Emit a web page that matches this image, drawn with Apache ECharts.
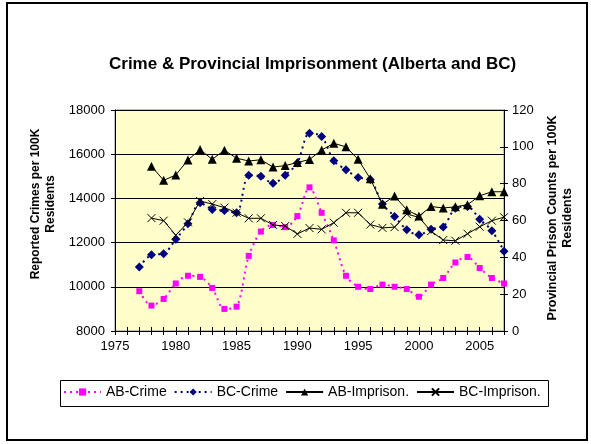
<!DOCTYPE html>
<html>
<head>
<meta charset="utf-8">
<script src="https://cdn.jsdelivr.net/npm/echarts/dist/echarts.min.js"></script>
<style>
html,body{margin:0;padding:0;background:#fff;}
#chart{width:591px;height:444px;}
</style>
</head>
<body>
<div id="chart"></div>
<script>
/* Crime & provincial imprisonment, AB vs BC
   crime on left axis, prison counts on right axis */
var crimeYears = [1977,1978,1979,1980,1981,1982,1983,1984,1985,1986,1987,1988,1989,1990,1991,1992,
  1993,1994,1995,1996,1997,1998,1999,2000,2001,2002,2003,2004,2005,2006,2007];
var abCrime = [9800,9150,9450,10150,10500,10450,9950,9000,9100,11400,12500,12800,12700,13200,14500,13350,
  12100,10500,10000,9900,10100,10000,9900,9550,10100,10400,11100,11350,10850,10400,10150];
var bcCrime = [10900,11450,11500,12150,12850,13800,13500,13450,13350,15050,15000,14680,15050,15600,16950,16800,
  15700,15300,14950,14850,13750,13180,12580,12350,12600,12710,13550,13630,13060,12540,11610];
var impYears = [1978,1979,1980,1981,1982,1983,1984,1985,1986,1987,1988,1989,1990,1991,1992,
  1993,1994,1995,1996,1997,1998,1999,2000,2001,2002,2003,2004,2005,2006,2007];
var abImp = [89.5,81.8,84.7,92.9,98.5,93.2,98.2,93.8,92.3,93,89,89.8,91.5,93.1,98.3,
  101.9,100,93.2,82.7,68.8,73.3,65.8,62.4,67.6,66.8,67.4,68.6,73.4,75.6,75.6];
var bcImp = [61.3,59.9,52,59,70.6,68.9,67,64.2,61.2,61.2,57.6,57,52.7,55.9,55.2,
  58.8,64.2,64.2,57.8,56,56.4,63.5,61.7,54.2,49.4,49,52.8,56.6,59.9,61.8];
var seriesNames = ["AB-Crime","BC-Crime","AB-Imprison.","BC-Imprison."];
var chartTitle = "Crime & Provincial Imprisonment (Alberta and BC)";
var leftTitle = "Reported Crimes per 100K\nResidents";
var rightTitle = "Provincial Prison Counts per 100K\nResidents";

function pairs(xs, ys){ return xs.map(function(x,i){ return [x, ys[i]]; }); }

var FONT = "'Liberation Sans', Arial, sans-serif";
var G = { left:115, top:110, width:389, height:221 };
var XMARK = "path://M0,0L10,10M10,0L0,10";

function xAx(inside){
  return {
    type:"value", min:1975, max:2007, interval:1, position:"bottom",
    axisLine:{show:!inside, onZero:false, lineStyle:{color:"#000", width:1}},
    axisTick:{show:true, inside:inside, length:4, lineStyle:{color:"#000"}},
    axisLabel:{show:!inside, color:"#000", fontFamily:FONT, fontSize:13, margin:9,
      formatter:function(v){ return v%5===0 ? String(v) : ""; }},
    splitLine:{show:false}
  };
}
function yAx(pos, min, max, step, inside, grid){
  return {
    type:"value", position:pos, min:min, max:max, interval:step,
    axisLine:{show:!inside, onZero:false, lineStyle:{color:"#000", width:1}},
    axisTick:{show:true, inside:inside, length:4, lineStyle:{color:"#000"}},
    axisLabel:{show:!inside, color:"#000", fontFamily:FONT, fontSize:13, margin:pos==="left"?10:8,
      formatter:function(v){ return String(v); }},
    splitLine:{show:!!grid, lineStyle:{color:"#000", width:1}}
  };
}

var chart = echarts.init(document.getElementById("chart"), null, {renderer:"canvas"});
chart.setOption({
  animation:false,
  backgroundColor:"#fff",
  title:{ text:chartTitle, left:104, top:51,
    textStyle:{fontFamily:FONT, fontSize:17, fontWeight:"bold", color:"#000"} },
  grid:{ left:G.left, top:G.top, width:G.width, height:G.height, show:true,
    backgroundColor:"#FFFFCC", borderColor:"#808080", borderWidth:1 },
  xAxis:[ xAx(false), xAx(true) ],
  yAxis:[ yAx("left",8000,18000,2000,false,true), yAx("right",0,120,20,false,false),
          yAx("left",8000,18000,2000,true,false), yAx("right",0,120,20,true,false) ],
  legend:{
    left:63, top:385, itemWidth:37, itemHeight:9, itemGap:7, padding:0,
    textStyle:{fontFamily:FONT, fontSize:14, color:"#000"},
    data:seriesNames
  },
  graphic:[
    { type:"rect", shape:{x:7, y:3, width:580, height:437}, style:{fill:null, stroke:"#000", lineWidth:2}, silent:true },
    { type:"rect", shape:{x:60.5, y:380.5, width:488, height:26}, style:{fill:null, stroke:"#000", lineWidth:1}, silent:true },
    { type:"text", x:43, y:204, rotation:Math.PI/2,
      style:{text:leftTitle, fontFamily:FONT, fontSize:12, fontWeight:"bold", fill:"#000",
        align:"center", verticalAlign:"middle", lineHeight:15} },
    { type:"text", x:560, y:218, rotation:Math.PI/2,
      style:{text:rightTitle, fontFamily:FONT, fontSize:12.5, fontWeight:"bold", fill:"#000",
        align:"center", verticalAlign:"middle", lineHeight:15} }
  ],
  series:[
    { name:seriesNames[0], type:"line", xAxisIndex:0, yAxisIndex:0, data:pairs(crimeYears, abCrime),
      smooth:0.3, symbol:"rect", symbolSize:6, color:"#FF00FF",
      lineStyle:{color:"#FF00FF", width:2, type:[2,4]}, itemStyle:{color:"#FF00FF"}, z:2 },
    { name:seriesNames[1], type:"line", xAxisIndex:0, yAxisIndex:0, data:pairs(crimeYears, bcCrime),
      smooth:0.3, symbol:"diamond", symbolSize:9, color:"#000080",
      lineStyle:{color:"#000080", width:2, type:[2,4]}, itemStyle:{color:"#000080"}, z:3 },
    { name:seriesNames[2], type:"line", xAxisIndex:0, yAxisIndex:1, data:pairs(impYears, abImp),
      symbol:"triangle", symbolSize:9, color:"#000",
      lineStyle:{color:"#000", width:1}, itemStyle:{color:"#000"}, z:4 },
    { name:seriesNames[3], type:"line", xAxisIndex:0, yAxisIndex:1, data:pairs(impYears, bcImp),
      symbol:XMARK, symbolSize:8, color:"#000",
      lineStyle:{color:"#000", width:1}, itemStyle:{color:"rgba(0,0,0,0)", borderColor:"#000", borderWidth:1}, z:4 }
  ]
});
</script>
</body>
</html>
